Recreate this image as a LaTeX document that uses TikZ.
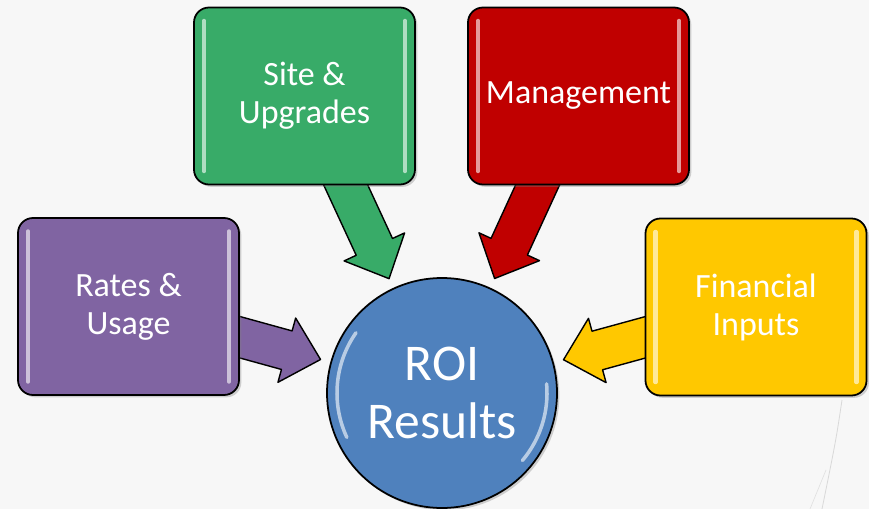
\documentclass[tikz,border=0pt]{standalone}
\usepackage{fontspec}
\setmainfont{Carlito}
\usetikzlibrary{calc,shadows}

\definecolor{bgcol}{HTML}{F7F7F7}
\definecolor{ratescol}{HTML}{8064A2}
\definecolor{sitecol}{RGB}{56,171,104}
\definecolor{mgmtcol}{HTML}{C00000}
\definecolor{fincol}{HTML}{FFC800}
\definecolor{roicol}{HTML}{4F81BD}

\newcommand{\blockarrow}[3]{%
	\coordinate (h) at ($(#2)!1.05cm!(#1)$);
	\fill[#3, draw=black, line width=1.2pt, line join=round]
	($(#1)!0.6cm!90:(#2)$) -- ($(h)!0.6cm!90:(#2)$) -- ($(h)!1cm!90:(#2)$) -- (#2)
	-- ($(h)!1cm!-90:(#2)$) -- ($(h)!0.6cm!-90:(#2)$) -- ($(#1)!0.6cm!-90:(#2)$) -- cycle;
}

\begin{document}
\begin{tikzpicture}[x=0.03cm, y=-0.03cm,
	box/.style={draw=black, line width=1.5pt, fill=#1, rounded corners=0.45cm,
		minimum width=6.63cm, minimum height=5.31cm, text=white, align=center,
		font=\fontsize{29}{32.4}\selectfont,
		drop shadow={opacity=0.35, shadow xshift=2pt, shadow yshift=-2pt},
		path picture={
			\draw[white, opacity=0.6, line width=3.5pt, line cap=round]
			([shift={(0.3cm,-0.4cm)}]path picture bounding box.north west) -- ([shift={(0.3cm,0.4cm)}]path picture bounding box.south west)
			([shift={(-0.3cm,-0.4cm)}]path picture bounding box.north east) -- ([shift={(-0.3cm,0.4cm)}]path picture bounding box.south east);
		}},
	roi/.style={circle, draw=black, line width=1.5pt, fill=roicol, minimum size=6.9cm,
		text=white, align=center, font=\fontsize{44}{49.5}\selectfont,
		drop shadow={opacity=0.35, shadow xshift=2pt, shadow yshift=-2pt},
		path picture={
			\draw[white, opacity=0.6, line width=3pt, line cap=round]
			($(path picture bounding box.center)+(145:3.15cm)$) arc (145:205:3.15cm)
			($(path picture bounding box.center)+(-40:3.15cm)$) arc (-40:5:3.15cm);
		}}]
	\useasboundingbox (0,0) rectangle (869,509);
	\fill[bgcol] (0,0) rectangle (869,509);
	\draw[gray!30, line width=0.7pt] (842,400) .. controls (836,440) .. (822,509);
	\draw[gray!25, line width=0.5pt] (826,470) .. controls (818,490) .. (810,509);

	\coordinate (roipos) at (442,393);
	\coordinate (rates) at (128.5,306.5);
	\coordinate (site) at (304.5,96);
	\coordinate (mgmt) at (578.5,96);
	\coordinate (fin) at (756,307);

	\coordinate (rates tip) at ($(roipos)!3.78cm!(rates)$);
	\coordinate (site tip) at ($(roipos)!3.78cm!(site)$);
	\coordinate (mgmt tip) at ($(roipos)!3.78cm!(mgmt)$);
	\coordinate (fin tip) at ($(roipos)!3.78cm!(fin)$);

	\blockarrow{rates}{rates tip}{ratescol}
	\blockarrow{site}{site tip}{sitecol}
	\blockarrow{mgmt}{mgmt tip}{mgmtcol}
	\blockarrow{fin}{fin tip}{fincol}

	\node[box=ratescol] (R) at (rates) {Rates \&\\Usage};
	\node[box=sitecol] (S) at (site) {Site \&\\Upgrades};
	\node[box=mgmtcol] (M) at (mgmt) {Management};
	\node[box=fincol] (F) at (fin) {Financial\\Inputs};
	\node[roi] (ROI) at (roipos) {ROI\\Results};
\end{tikzpicture}
\end{document}
